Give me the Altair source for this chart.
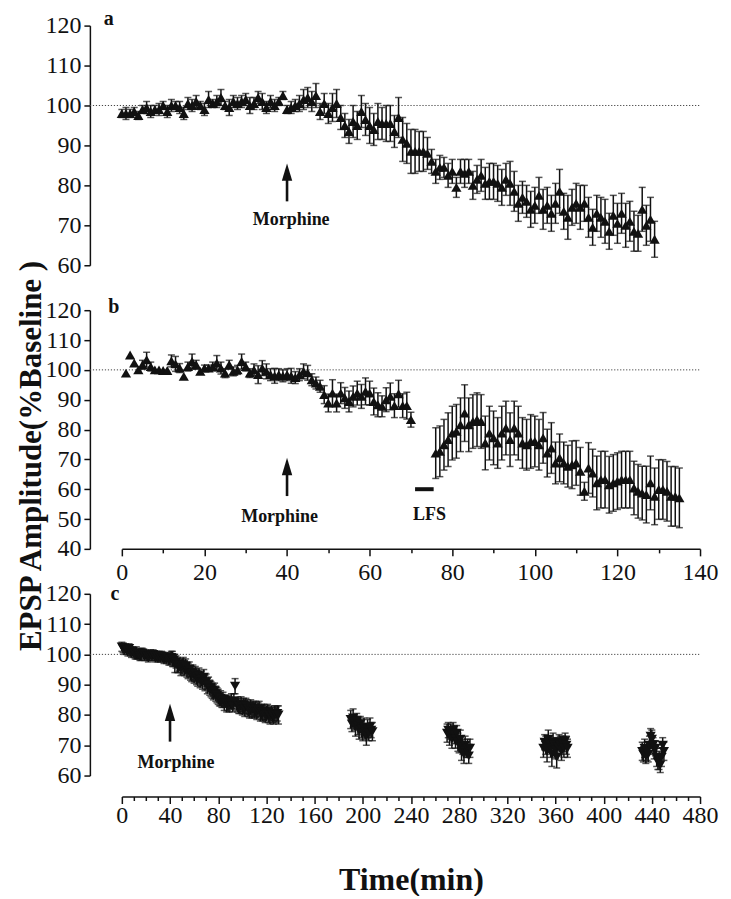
import altair as alt
import pandas as pd

# ---------------- data ----------------
a_time = list(range(0, 130))
a_mean = [98, 98, 98, 98.5, 97.5, 99, 99.5, 98.5, 99, 99,
          100, 98.5, 100, 100, 99.5, 98, 100.5, 100, 101, 100,
          99, 101.5, 100.5, 101, 102, 100, 99.5, 101, 100.5, 101,
          101.5, 100, 100.5, 102, 101, 99.5, 101, 100, 101, 102.5,
          99, 99.5, 100, 100.5, 101.5, 102, 101, 102.5, 98.5, 100.5,
          98, 99.5, 100.5, 97, 95, 93.5, 96, 95, 98.5, 96.5,
          95, 94, 96, 95.5, 95.5, 95.5, 93.5, 97, 91.5, 90.5,
          88.5, 88.5, 88.5, 88.5, 88, 86, 83.5, 84.5, 84.5, 82.5,
          83.5, 79.5, 83.5, 83, 83.5, 80, 81.5, 82.5, 80.5, 81,
          81, 80.5, 79.5, 81.5, 80.5, 78.5, 75.5, 77, 76, 74,
          75, 77.5, 74, 75, 73, 75.5, 78.5, 73.5, 72, 74.5,
          75.5, 74.5, 75.5, 72, 69.5, 73, 72, 71, 68.5, 72.5,
          70.5, 73, 70, 71, 68.5, 68, 74, 70, 71.5, 66.5]
a_err = [1, 1.5, 1, 1, 1, 1, 1.5, 1.5, 1, 1.5,
         1, 1.5, 1.5, 1, 1.5, 1.5, 1.5, 1.5, 1.5, 1,
         1.5, 2, 1, 1.5, 2, 1, 2, 1.5, 1.5, 1.5,
         1.5, 2, 1.5, 1.5, 2, 1.5, 1.5, 1.5, 1, 1,
         1, 1.5, 1.5, 2, 2.5, 2.5, 2.5, 3, 2, 2.5,
         2.5, 3.5, 3.5, 3, 3, 3, 4, 3.5, 4, 4,
         4.5, 4, 4.5, 4, 4.5, 4.5, 4, 5, 5.5, 5,
         5.5, 5.5, 5, 5, 4, 3, 3, 3, 2.5, 3,
         3, 2.5, 3, 3.5, 3, 3.5, 3.5, 4, 4, 4.5,
         4.5, 4.5, 4.5, 4, 5.5, 5, 4.5, 4, 4, 4.5,
         4.5, 4.5, 5, 4.5, 4.5, 5, 5.5, 4.5, 5.5, 4.5,
         5, 5.5, 4.5, 5, 4.5, 4.5, 5, 5.5, 4.5, 5,
         5, 5, 5.5, 5, 5, 4.5, 5.5, 5, 5.5, 4.5]

b_time = list(range(1, 71)) + list(range(76, 136))
b_mean = [98.9, 105.0, 102.3, 100.0, 101.7, 103.4, 101.1, 100.0, 100.0, 99.8,
          99.8, 103.0, 102.0, 100.6, 97.8, 101.1, 102.8, 101.7, 99.5, 100.6,
          100.6, 101.1, 102.3, 100.6, 98.9, 101.7, 99.5, 100.0, 102.8, 101.1,
          98.9, 100.0, 98.4, 100.6, 99.5, 98.4, 98.0, 98.4, 98.0, 98.4,
          98.0, 97.4, 98.4, 99.5, 99.0, 96.7, 95.6, 94.5, 91.7, 88.9,
          92.2, 88.9, 92.2, 90.6, 89.4, 91.1, 92.2, 91.1, 92.8, 92.2,
          89.4, 88.3, 87.8, 90.0, 91.1, 88.0, 92.0, 88.0, 88.0, 83.3,
          72.1, 72.7, 74.9, 76.6, 78.8, 79.4, 81.6, 85.5, 81.6, 82.7,
          83.3, 82.7, 75.5, 78.8, 77.2, 75.5, 78.8, 80.5, 76.6, 80.5,
          78.8, 75.5, 74.9, 76.0, 76.0, 74.9, 77.2, 72.1, 73.8, 68.8,
          70.5, 68.8, 67.7, 68.2, 68.8, 66.0, 59.3, 67.1, 65.4, 62.1,
          63.2, 63.2, 61.5, 62.1, 62.7, 63.2, 63.2, 63.2, 60.4, 59.3,
          58.7, 58.2, 62.1, 57.6, 59.9, 59.9, 59.3, 57.6, 57.6, 57.1]
b_err = [0, 0, 0, 0, 1.5, 2.5, 1.5, 0, 0, 0,
         0, 2, 2.5, 1.5, 0, 1.5, 2.5, 1.5, 0, 1,
         1, 1.5, 2.5, 2, 1.5, 1.5, 1.5, 1.5, 2.5, 1.5,
         1.5, 2, 3, 2.5, 2.5, 2, 2.5, 2, 2, 2,
         2.5, 2, 2, 2.5, 2.5, 2, 2, 2, 3, 3,
         4.5, 3, 3.5, 3.5, 3.5, 3.5, 4, 4, 4.5, 4,
         4.5, 4, 3.5, 4, 4.5, 4, 4.5, 4, 4.5, 2.5,
         8.5, 8.5, 8.5, 9, 9, 9, 9, 9.5, 9, 9,
         9, 9, 9, 9, 9, 8.5, 9, 9, 9, 9,
         9, 8.5, 8.5, 9, 8.5, 8.5, 8.5, 8, 8.5, 7,
         8, 7, 7, 8, 7.5, 8, 3, 8.5, 8, 9,
         9.5, 9.5, 9.5, 9.5, 9.5, 9.5, 9.5, 9.5, 9, 9,
         9, 9.5, 9, 9.5, 10, 10, 10, 10, 10, 10]

c_time = (list(range(0, 131)) + list(range(190, 209)) + list(range(270, 290))
          + list(range(350, 371)) + list(range(432, 451)))
c_mean = [102.5, 102, 101.5, 102, 101.5, 101, 102, 101, 100.5, 101,
          100.5, 100, 100.5, 100, 100, 99.5, 100, 100.5, 100, 99.5,
          100, 99.5, 99, 99.5, 100, 99.5, 100, 99.5, 99, 99.5,
          99, 99.5, 99, 99.5, 99, 98.5, 99, 98.5, 99, 98,
          98.5, 99, 98.5, 98, 97, 97.5, 96.5, 96, 96.5, 95.5,
          96, 96.5, 95.5, 96, 95, 94.5, 95, 94, 93.5, 94,
          93, 93.5, 92.5, 92, 93, 91.5, 92, 91, 92.5, 90.5,
          91, 89.5, 90, 89, 88.5, 88, 87.5, 88, 87, 86.5,
          86, 85, 85.5, 84.5, 85, 84, 84.5, 83.5, 84, 83.5,
          84, 84.5, 83, 84.5, 89.5, 83.5, 83.5, 83, 82.5, 83.5,
          82.5, 83, 82, 83, 82.5, 82, 81.5, 82.5, 81.5, 82,
          81.5, 82, 81, 81.5, 82, 80.5, 81, 80.5, 81, 80,
          80.5, 81, 80, 79.5, 80.5, 80, 79.5, 80.5, 80, 80.5,
          80,
          78.5, 77, 79, 77.5, 76, 78, 76.5, 75, 77, 75.5,
          74, 76, 74.5, 73, 75.5, 74, 76, 75, 74.5,
          74, 75, 73, 74.5, 72, 75, 73.5, 72, 74, 71,
          70, 72, 68, 69.5, 67, 70, 68.5, 69, 66.5, 69,
          69, 71, 70, 68, 72, 70.5, 69, 67, 71, 70,
          68.5, 66, 69.5, 71, 70, 68, 70.5, 69, 71.5, 70, 69,
          68, 67, 69, 66.5, 68, 67, 70, 73, 72, 70,
          68.5, 69, 66, 64.5, 65, 63.5, 66, 70, 68]
c_err = ([1.5] * 10 + [1.5, 1.5, 2, 1.5, 1.5, 1.5, 2, 1.5, 1.5, 1.5] + [1.5] * 20
         + [2, 2, 2.5, 2, 3, 2, 2.5, 2, 2, 2.5] + [2.5] * 30
         + [2.5, 2, 2.5, 2, 2.5, 2.5, 2, 2.5, 2.5, 2.5] + [2, 2.5, 2, 2.5, 2.5, 2, 2.5, 2.5, 2, 2.5]
         + [2.5] * 30 + [3]
         + [3, 2.5, 3, 2.5, 3, 2.5, 3, 3, 2.5, 3, 2.5, 3, 2.5, 3, 3, 2.5, 3, 2.5, 3]
         + [3, 2.5, 3, 2.5, 3, 2.5, 3, 3, 2.5, 3, 2.5, 3, 3, 2.5, 3, 3, 2.5, 3, 2.5, 3]
         + [3, 2.5, 3, 3.5, 3, 2.5, 3, 4, 3, 2.5, 3, 3.5, 3, 2.5, 3, 3, 2.5, 3, 2.5, 3, 3]
         + [3, 2.5, 3, 2.5, 3, 2.5, 3, 2.5, 3, 2.5, 3, 2.5, 3, 2.5, 3, 2.5, 3, 2.5, 3])

y_ticks_a = [60, 70, 80, 90, 100, 110, 120]
y_ticks_b = [40, 50, 60, 70, 80, 90, 100, 110, 120]
y_ticks_c = [60, 70, 80, 90, 100, 110, 120]
x_ticks_b = [0, 10, 20, 30, 40, 50, 60, 70, 80, 90, 100, 110, 120, 130, 140]
x_ticks_c = list(range(0, 490, 10))

panel_letters = ["a", "b", "c"]
drug_label = "Morphine"
lfs_label = "LFS"
x_title = "Time(min)"
y_title = "EPSP Amplitude(%Baseline )"

# ---------------- styling ----------------
SERIF = "Liberation Serif"
INK = "#111111"
W = 579
YAX_OFF = 32


def y_axis(vals):
    return alt.Axis(values=vals, offset=YAX_OFF, title=None, grid=False,
                    domainColor=INK, domainWidth=1.5, tickColor=INK, tickWidth=1.5,
                    tickSize=6, labelFont=SERIF, labelFontSize=24, labelColor=INK,
                    labelPadding=3)


def x_axis(vals, step, offset, pad, title=None):
    if title is not None:
        kw = dict(title=title, titleFont=SERIF, titleFontSize=32, titleFontWeight="bold",
                  titleColor=INK, titlePadding=37)
    else:
        kw = dict(title=None)
    return alt.Axis(values=vals, offset=offset, grid=False,
                    domainColor=INK, domainWidth=1.5, tickColor=INK, tickWidth=1.5,
                    tickSize={"condition": {"test": f"datum.value % {step} === 0", "value": 7}, "value": 4},
                    labelExpr=f"datum.value % {step} === 0 ? datum.label : ''",
                    labelOverlap=False, labelFlush=False,
                    labelFont=SERIF, labelFontSize=24, labelColor=INK, labelPadding=pad, **kw)


def panel(times, means, errs, shape, xdom, ydom, yvals, height, xax, letter, letter_pos,
          arrow, extra_layers=None):
    df = pd.DataFrame({"t": times, "m": means, "e": errs})
    df["lo"] = df["m"] - df["e"]
    df["hi"] = df["m"] + df["e"]
    xs = alt.Scale(domain=xdom, nice=False, zero=False)
    ys = alt.Scale(domain=ydom, nice=False, zero=False)
    yax = y_axis(yvals)

    def X(f):
        return alt.X(f"{f}:Q", scale=xs, axis=xax)

    def Y(f):
        return alt.Y(f"{f}:Q", scale=ys, axis=yax)

    px_x = W / (xdom[1] - xdom[0])
    px_y = height / (ydom[1] - ydom[0])

    base = pd.DataFrame({"x0": [xdom[0] - YAX_OFF / px_x], "x1": [xdom[1]], "y": [100]})
    dotted = alt.Chart(base).mark_rule(color="#444444", strokeWidth=1, strokeDash=[1.2, 1.8]).encode(
        x=X("x0"), x2="x1", y=Y("y"))

    err = alt.Chart(df[df.e > 0]).mark_errorbar(ticks=True, size=7, thickness=1.5, color=INK).encode(
        x=X("t"), y=Y("lo"), y2="hi")
    pts = alt.Chart(df).mark_point(shape=shape, filled=True, size=105, color=INK, opacity=1).encode(
        x=X("t"), y=Y("m"))

    ax, ybase, ytip, tx, ty = arrow
    adf = pd.DataFrame({"x": [ax], "b": [ybase], "s": [ytip - 9 / px_y], "tip": [ytip]})
    shaft = alt.Chart(adf).mark_rule(color=INK, strokeWidth=2.6).encode(x=X("x"), y=Y("b"), y2="s")
    head = alt.Chart(adf).mark_point(shape="M0,0L0.6,2L-0.6,2Z", filled=True, size=300,
                                     color=INK, opacity=1).encode(x=X("x"), y=Y("tip"))
    tdf = pd.DataFrame({"x": [tx], "y": [ty], "label": [drug_label]})
    txt = alt.Chart(tdf).mark_text(font=SERIF, fontWeight="bold", fontSize=18, color=INK).encode(
        x=X("x"), y=Y("y"), text="label:N")

    ldf = pd.DataFrame({"label": [letter]})
    let = alt.Chart(ldf).mark_text(font=SERIF, fontWeight="bold", fontSize=20, color=INK).encode(
        x=alt.value(letter_pos[0]), y=alt.value(letter_pos[1]), text="label:N")

    layers = [dotted, err, pts, shaft, head, txt, let]
    if extra_layers:
        layers += [f(X, Y) for f in extra_layers]
    return alt.layer(*layers).properties(width=W, height=height)


# panel b extras: LFS bar, label, y title
def lfs_bar(X, Y):
    d = pd.DataFrame({"x0": [71], "x1": [75.5], "y": [60]})
    return alt.Chart(d).mark_rule(color=INK, strokeWidth=4).encode(x=X("x0"), x2="x1", y=Y("y"))


def lfs_text(X, Y):
    d = pd.DataFrame({"x": [74.5], "y": [51.5], "label": [lfs_label]})
    return alt.Chart(d).mark_text(font=SERIF, fontWeight="bold", fontSize=18, color=INK).encode(
        x=X("x"), y=Y("y"), text="label:N")


def ytitle(X, Y):
    d = pd.DataFrame({"label": [y_title]})
    return alt.Chart(d).mark_text(font=SERIF, fontWeight="bold", fontSize=31, color=INK, angle=270).encode(
        x=alt.value(-90), y=alt.value(146), text="label:N")


pa = panel(a_time, a_mean, a_err, "triangle-up", [0, 140], [60, 120], y_ticks_a, 240, None,
           panel_letters[0], (-13, -7), (40, 76, 85.5, 41, 71.3))
pb = panel(b_time, b_mean, b_err, "triangle-up", [0, 140], [40, 120], y_ticks_b, 239,
           x_axis(x_ticks_b, 20, 0, 5), panel_letters[1], (-8, -3), (40, 57.7, 70.5, 38.2, 50.8),
           extra_layers=[lfs_bar, lfs_text, ytitle])
pc = panel(c_time, c_mean, c_err, "triangle-down", [0, 480], [60, 120], y_ticks_c, 182,
           x_axis(x_ticks_c, 40, 21, 0, title=x_title), panel_letters[2], (-7, 0),
           (40, 71.2, 83.7, 45, 64.2))

chart = alt.vconcat(pa, pb, pc, spacing=45, bounds="flush").properties(
    padding={"left": 7, "top": 0, "right": 5, "bottom": 0}
).configure_view(stroke=None)

chart.save("out.html", embed_options={"renderer": "svg", "actions": False})
